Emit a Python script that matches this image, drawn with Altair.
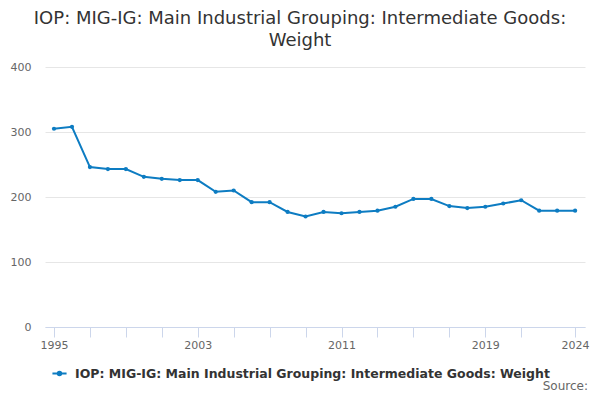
import altair as alt
import pandas as pd

years = list(range(1995, 2025))
values = [305, 308, 246, 243, 243, 231, 228, 226, 226, 208, 210, 192, 192, 177, 170,
          177, 175, 177, 179, 185, 197, 197, 186, 183, 185, 190, 195, 179, 179, 179]
series = "IOP: MIG-IG: Main Industrial Grouping: Intermediate Goods: Weight"
tick_years = [1995, 1997, 1999, 2001, 2003, 2005, 2007, 2009, 2011, 2013, 2015, 2017, 2019, 2021, 2024]
label_years = [1995, 2003, 2011, 2019, 2024]

df = pd.DataFrame({"year": years, "value": values, "series": series})

color = "#0d7cc2"
font = "DejaVu Sans"

label_expr = "indexof([" + ",".join(str(y) for y in label_years) + "], datum.value) >= 0 ? '' + datum.value : ''"

base = alt.Chart(df).encode(
    x=alt.X("year:Q",
            scale=alt.Scale(domain=[1994.5, 2024.55], nice=False, zero=False),
            axis=alt.Axis(title=None, values=tick_years, labelExpr=label_expr,
                          grid=False, domain=True, domainColor="#ccd6eb",
                          tickColor="#ccd6eb", tickSize=10, labelColor="#666666",
                          labelFont=font, labelFontSize=11, labelPadding=2,
                          labelFlush=False, labelOverlap=False)),
    y=alt.Y("value:Q",
            scale=alt.Scale(domain=[0, 400], nice=False),
            axis=alt.Axis(title=None, values=[0, 100, 200, 300, 400], grid=True,
                          gridColor="#e6e6e6", domain=False, ticks=False,
                          labelColor="#666666", labelFont=font, labelFontSize=11,
                          labelPadding=14)),
    color=alt.Color("series:N",
                    scale=alt.Scale(range=[color]),
                    legend=alt.Legend(title=None, orient="none", legendX=6, legendY=298,
                                      labelFont=font, labelFontSize=12.5, labelFontWeight="bold",
                                      labelColor="#333333", labelLimit=600, labelOffset=7,
                                      symbolType="M-1,0H1M-0.25,0a0.25,0.25 0 1,0 0.5,0a0.25,0.25 0 1,0 -0.5,0",
                                      symbolSize=200, symbolStrokeWidth=2, symbolFillColor=color)),
)

line = base.mark_line(strokeWidth=2, point=alt.OverlayMarkDef(filled=True, size=18, color=color))

source = alt.Chart(pd.DataFrame({"t": ["Source:"]})).mark_text(
    align="right", baseline="middle", font=font, fontSize=12, color="#666666"
).encode(x=alt.value(543), y=alt.value(319), text="t:N")

chart = alt.layer(line, source).properties(
    width=540, height=260,
    padding={"left": 37, "top": 59, "right": 7, "bottom": 65},
    autosize=alt.AutoSizeParams(type="none"),
    title=alt.TitleParams(
        text=["IOP: MIG-IG: Main Industrial Grouping: Intermediate Goods:", "Weight"],
        font=font, fontSize=18, fontWeight="normal", color="#333333",
        anchor="middle", dx=-15, offset=11, lineHeight=22),
).configure_view(stroke=None)

chart.save("out.html", embed_options={"renderer": "svg", "actions": False})
